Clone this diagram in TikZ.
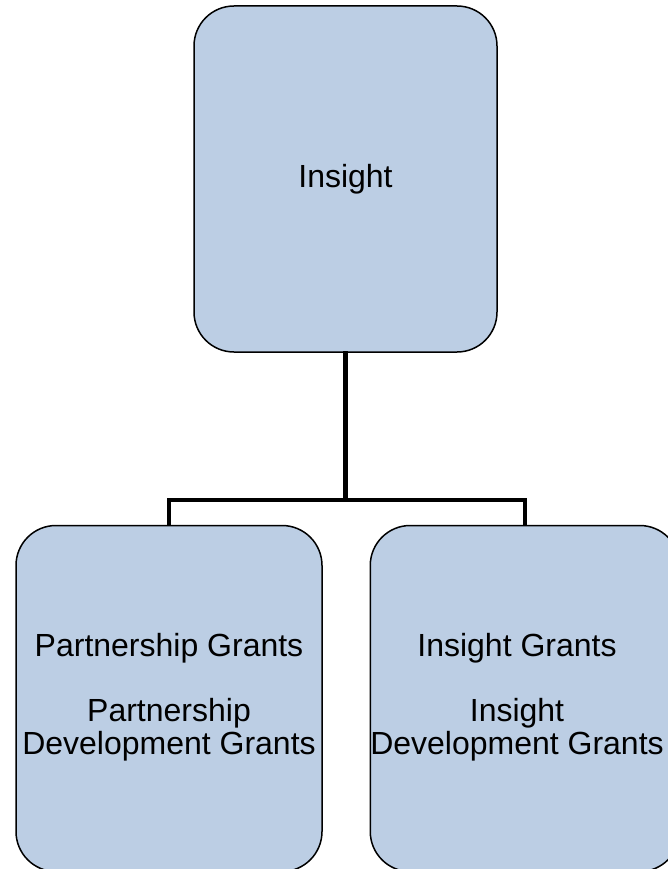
\documentclass[tikz,border=0pt]{standalone}
\usepackage{fontspec}
\setmainfont{Liberation Sans}
\definecolor{boxfill}{RGB}{188,206,228}
\begin{document}
\begin{tikzpicture}[x=1pt,y=-1pt,
  orgbox/.style={draw=black, line width=1.5pt, fill=boxfill, rounded corners=40pt,
    minimum width=#1, minimum height=346pt, inner sep=0pt,
    font=\fontsize{32}{32}\selectfont},
  link/.style={line width=4.5pt, line cap=rect}]
\clip (0,0) rectangle (668,869);
\node[orgbox=303pt] (top) at (345.5,179) {Insight};
\node[orgbox=306pt] (left) at (169,698.5) {\begin{tabular}{@{}c@{}}Partnership Grants\\[32pt]Partnership\\Development Grants\end{tabular}};
\node[orgbox=306pt] (right) at (525,698.5) {\begin{tabular}{@{}c@{\hspace{16pt}}}Insight Grants\\[32pt]Insight\\Development Grants\end{tabular}};
\coordinate (j) at (345.5,500);
\draw[link] (top.south) -- (j);
\draw[link, line cap=butt] (left.north) |- (j) -| (right.north);
\end{tikzpicture}
\end{document}
